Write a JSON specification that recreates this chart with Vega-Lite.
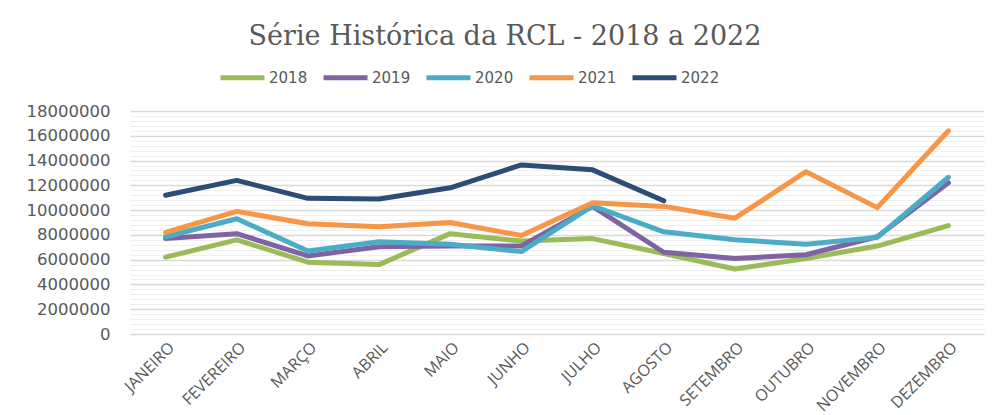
{
  "$schema": "https://vega.github.io/schema/vega-lite/v6.json",
  "width": 854,
  "height": 223,
  "autosize": {"type": "none"},
  "padding": {"left": 130, "top": 111, "right": 14, "bottom": 81},
  "background": "white",
  "title": {
    "text": "Série Histórica da RCL - 2018 a 2022",
    "font": "DejaVu Serif",
    "fontSize": 27,
    "fontWeight": "normal",
    "color": "#595959",
    "anchor": "middle",
    "frame": "bounds",
    "offset": 2
  },
  "datasets": {
    "rcl": [
      {"mes": "JANEIRO", "ano": "2018", "valor": 6200000},
      {"mes": "FEVEREIRO", "ano": "2018", "valor": 7600000},
      {"mes": "MARÇO", "ano": "2018", "valor": 5800000},
      {"mes": "ABRIL", "ano": "2018", "valor": 5600000},
      {"mes": "MAIO", "ano": "2018", "valor": 8100000},
      {"mes": "JUNHO", "ano": "2018", "valor": 7500000},
      {"mes": "JULHO", "ano": "2018", "valor": 7700000},
      {"mes": "AGOSTO", "ano": "2018", "valor": 6500000},
      {"mes": "SETEMBRO", "ano": "2018", "valor": 5250000},
      {"mes": "OUTUBRO", "ano": "2018", "valor": 6100000},
      {"mes": "NOVEMBRO", "ano": "2018", "valor": 7100000},
      {"mes": "DEZEMBRO", "ano": "2018", "valor": 8750000},
      {"mes": "JANEIRO", "ano": "2019", "valor": 7700000},
      {"mes": "FEVEREIRO", "ano": "2019", "valor": 8100000},
      {"mes": "MARÇO", "ano": "2019", "valor": 6300000},
      {"mes": "ABRIL", "ano": "2019", "valor": 7050000},
      {"mes": "MAIO", "ano": "2019", "valor": 7100000},
      {"mes": "JUNHO", "ano": "2019", "valor": 7100000},
      {"mes": "JULHO", "ano": "2019", "valor": 10300000},
      {"mes": "AGOSTO", "ano": "2019", "valor": 6600000},
      {"mes": "SETEMBRO", "ano": "2019", "valor": 6100000},
      {"mes": "OUTUBRO", "ano": "2019", "valor": 6400000},
      {"mes": "NOVEMBRO", "ano": "2019", "valor": 7850000},
      {"mes": "DEZEMBRO", "ano": "2019", "valor": 12200000},
      {"mes": "JANEIRO", "ano": "2020", "valor": 7850000},
      {"mes": "FEVEREIRO", "ano": "2020", "valor": 9300000},
      {"mes": "MARÇO", "ano": "2020", "valor": 6700000},
      {"mes": "ABRIL", "ano": "2020", "valor": 7450000},
      {"mes": "MAIO", "ano": "2020", "valor": 7250000},
      {"mes": "JUNHO", "ano": "2020", "valor": 6650000},
      {"mes": "JULHO", "ano": "2020", "valor": 10350000},
      {"mes": "AGOSTO", "ano": "2020", "valor": 8250000},
      {"mes": "SETEMBRO", "ano": "2020", "valor": 7600000},
      {"mes": "OUTUBRO", "ano": "2020", "valor": 7250000},
      {"mes": "NOVEMBRO", "ano": "2020", "valor": 7800000},
      {"mes": "DEZEMBRO", "ano": "2020", "valor": 12650000},
      {"mes": "JANEIRO", "ano": "2021", "valor": 8200000},
      {"mes": "FEVEREIRO", "ano": "2021", "valor": 9900000},
      {"mes": "MARÇO", "ano": "2021", "valor": 8900000},
      {"mes": "ABRIL", "ano": "2021", "valor": 8650000},
      {"mes": "MAIO", "ano": "2021", "valor": 9000000},
      {"mes": "JUNHO", "ano": "2021", "valor": 7950000},
      {"mes": "JULHO", "ano": "2021", "valor": 10600000},
      {"mes": "AGOSTO", "ano": "2021", "valor": 10300000},
      {"mes": "SETEMBRO", "ano": "2021", "valor": 9350000},
      {"mes": "OUTUBRO", "ano": "2021", "valor": 13100000},
      {"mes": "NOVEMBRO", "ano": "2021", "valor": 10200000},
      {"mes": "DEZEMBRO", "ano": "2021", "valor": 16400000},
      {"mes": "JANEIRO", "ano": "2022", "valor": 11200000},
      {"mes": "FEVEREIRO", "ano": "2022", "valor": 12400000},
      {"mes": "MARÇO", "ano": "2022", "valor": 10950000},
      {"mes": "ABRIL", "ano": "2022", "valor": 10900000},
      {"mes": "MAIO", "ano": "2022", "valor": 11800000},
      {"mes": "JUNHO", "ano": "2022", "valor": 13650000},
      {"mes": "JULHO", "ano": "2022", "valor": 13250000},
      {"mes": "AGOSTO", "ano": "2022", "valor": 10750000}
    ]
  },
  "data": {"name": "rcl"},
  "mark": {"type": "line", "strokeWidth": 5, "strokeCap": "round", "strokeJoin": "round"},
  "encoding": {
    "x": {
      "field": "mes",
      "type": "ordinal",
      "sort": ["JANEIRO","FEVEREIRO","MARÇO","ABRIL","MAIO","JUNHO","JULHO","AGOSTO","SETEMBRO","OUTUBRO","NOVEMBRO","DEZEMBRO"],
      "scale": {"type": "point", "padding": 0.5},
      "axis": {
        "title": null,
        "labelAngle": -45,
        "labelFont": "Open Sans",
        "labelFontSize": 16,
        "labelColor": "#595959",
        "ticks": false,
        "domain": false,
        "grid": false,
        "labelPadding": 5
      }
    },
    "y": {
      "field": "valor",
      "type": "quantitative",
      "scale": {"domain": [0, 18000000], "nice": false},
      "axis": {
        "title": null,
        "values": [0,400000,800000,1200000,1600000,2000000,2400000,2800000,3200000,3600000,4000000,4400000,4800000,5200000,5600000,6000000,6400000,6800000,7200000,7600000,8000000,8400000,8800000,9200000,9600000,10000000,10400000,10800000,11200000,11600000,12000000,12400000,12800000,13200000,13600000,14000000,14400000,14800000,15200000,15600000,16000000,16400000,16800000,17200000,17600000,18000000],
        "format": "d",
        "labelExpr": "datum.value % 2000000 === 0 ? datum.label : ''",
        "labelFont": "DejaVu Sans",
        "labelFontSize": 16.5,
        "labelColor": "#595959",
        "labelPadding": 20,
        "ticks": false,
        "domain": false,
        "grid": true,
        "gridColor": {"condition": {"test": "datum.value % 2000000 === 0", "value": "#d9d9d9"}, "value": "#efefef"},
        "gridWidth": {"condition": {"test": "datum.value % 2000000 === 0", "value": 1.5}, "value": 1}
      }
    },
    "color": {
      "field": "ano",
      "type": "nominal",
      "scale": {"domain": ["2018","2019","2020","2021","2022"], "range": ["#9BBB59","#8064A2","#4BACC6","#F79646","#2C4D75"]},
      "legend": {
        "title": null,
        "orient": "none",
        "direction": "horizontal",
        "legendX": 88,
        "legendY": -58,
        "symbolType": "stroke",
        "symbolSize": 1936,
        "symbolStrokeWidth": 5,
        "labelFont": "DejaVu Sans",
        "labelFontSize": 15,
        "labelColor": "#595959",
        "labelOffset": 2,
        "columnPadding": 5
      }
    }
  },
  "config": {"view": {"stroke": null}}
}
